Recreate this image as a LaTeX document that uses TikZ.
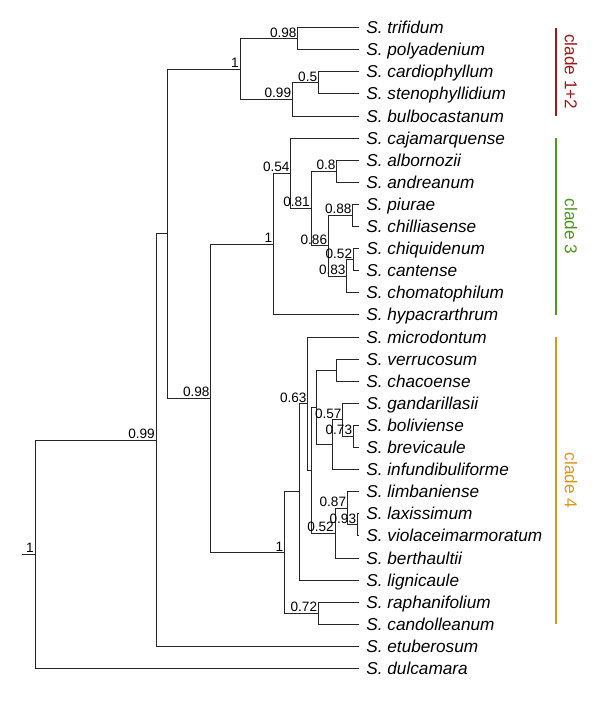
\documentclass[tikz,border=0pt]{standalone}
\usepackage{fontspec}
\setmainfont{Liberation Sans}
\definecolor{cladeA}{HTML}{9E1A1A}
\definecolor{cladeB}{HTML}{50961E}
\definecolor{cladeC}{HTML}{DC961E}
\begin{document}
\begin{tikzpicture}[x=0.5pt,y=-0.5pt,
  branch/.style={draw=black!85,line width=0.5pt},
  support/.style={anchor=base east,inner sep=0pt,xshift=-0.4pt,yshift=0.8pt,font=\fontsize{6.8}{8}\selectfont},
  tiplab/.style={anchor=base west,inner sep=0pt,font=\fontsize{8.6}{10}\selectfont\itshape},
  cladebar/.style={line width=1pt},
  cladelab/.style={rotate=-90,inner sep=0pt,font=\fontsize{8.6}{10}\selectfont}]
  \useasboundingbox (0,0) rectangle (600,724);
  % tips, top to bottom
  \foreach \sp [count=\i from 0] in {trifidum,polyadenium,cardiophyllum,stenophyllidium,
      bulbocastanum,cajamarquense,albornozii,andreanum,piurae,chilliasense,chiquidenum,
      cantense,chomatophilum,hypacrarthrum,microdontum,verrucosum,chacoense,gandarillasii,
      boliviense,brevicaule,infundibuliforme,limbaniense,laxissimum,violaceimarmoratum,
      berthaultii,lignicaule,raphanifolium,candolleanum,etuberosum,dulcamara}{
    \coordinate (\sp) at (359,{27.6+22.1*\i});
    \node[tiplab] (lab-\sp) at ([xshift=3.5pt,yshift=-3pt]\sp) {S. \sp};
  }
  % internal nodes
  \coordinate (rootedge) at (22,554.3);
  \coordinate (root) at (35,554.3);
  \coordinate (ingroup) at (156,440.0);
  \coordinate (tuberous) at (167.7,233.7);
  \coordinate (cl12) at (240,69.0);
  \coordinate (tripol) at (297.7,38.65);
  \coordinate (bulbo) at (292.3,99.4);
  \coordinate (cardst) at (318.3,82.85);
  \coordinate (cl34) at (210.7,398.3);
  \coordinate (cl3) at (273.3,244.1);
  \coordinate (cajam) at (290.7,173.3);
  \coordinate (albpiu) at (311,208.5);
  \coordinate (albor) at (336.7,171.25);
  \coordinate (piuch) at (328.3,245.8);
  \coordinate (piur) at (352.7,215.45);
  \coordinate (chiqch) at (346.7,276.2);
  \coordinate (chiq) at (353.3,259.65);
  \coordinate (cl4) at (284.3,552.6);
  \coordinate (core4) at (299.3,491.9);
  \coordinate (micro) at (307.7,403.65);
  \coordinate (verlim) at (311,470.3);
  \coordinate (verinf) at (316.5,407.45);
  \coordinate (verch) at (336.7,370.15);
  \coordinate (ganinf) at (332.7,444.75);
  \coordinate (gand) at (342.7,419.9);
  \coordinate (boliv) at (353.3,436.45);
  \coordinate (limber) at (335,533.15);
  \coordinate (limb) at (347.3,508.3);
  \coordinate (laxv) at (357.3,524.85);
  \coordinate (raph) at (318.3,613.25);
  % branches
  \draw[branch] (rootedge) -- (root);
  \foreach \p/\c in {root/ingroup,root/dulcamara,ingroup/tuberous,ingroup/etuberosum,
      tuberous/cl12,tuberous/cl34,cl12/tripol,cl12/bulbo,tripol/trifidum,tripol/polyadenium,
      bulbo/cardst,bulbo/bulbocastanum,cardst/cardiophyllum,cardst/stenophyllidium,
      cl34/cl3,cl34/cl4,cl3/cajam,cl3/hypacrarthrum,cajam/cajamarquense,cajam/albpiu,
      albpiu/albor,albpiu/piuch,albor/albornozii,albor/andreanum,piuch/piur,piuch/chiqch,
      piur/piurae,piur/chilliasense,chiqch/chiq,chiqch/chomatophilum,chiq/chiquidenum,
      chiq/cantense,cl4/core4,cl4/raph,core4/micro,core4/lignicaule,micro/microdontum,
      micro/verlim,verlim/verinf,verlim/limber,verinf/verch,verinf/ganinf,verch/verrucosum,
      verch/chacoense,ganinf/gand,ganinf/infundibuliforme,gand/gandarillasii,gand/boliv,
      boliv/boliviense,boliv/brevicaule,limber/limb,limber/berthaultii,limb/limbaniense,
      limb/laxv,laxv/laxissimum,laxv/violaceimarmoratum,raph/raphanifolium,raph/candolleanum}
    \draw[branch] (\p) |- (\c);
  % support values
  \foreach \n/\v in {root/1,ingroup/0.99,cl12/1,tripol/0.98,bulbo/0.99,cardst/0.5,
      cl34/0.98,cl3/1,cajam/0.54,albpiu/0.81,albor/0.8,piuch/0.86,piur/0.88,chiqch/0.83,
      chiq/0.52,cl4/1,micro/0.63,gand/0.57,boliv/0.73,limber/0.52,limb/0.87,laxv/0.93,
      raph/0.72}
    \node[support] (s-\n) at (\n) {\v};
  % clade bars
  \coordinate (barx) at (556,0);
  \draw[cladebar,cladeA] (trifidum -| barx) -- (bulbocastanum -| barx);
  \draw[cladebar,cladeB] (cajamarquense -| barx) -- (hypacrarthrum -| barx);
  \draw[cladebar,cladeC] (microdontum -| barx) -- (candolleanum -| barx);
  \node[cladelab,text=cladeA] (lab-c12) at (571,71.8) {clade 1+2};
  \node[cladelab,text=cladeB] (lab-c3) at (571,226.5) {clade 3};
  \node[cladelab,text=cladeC] (lab-c4) at (571,480.6) {clade 4};
\end{tikzpicture}
\end{document}
